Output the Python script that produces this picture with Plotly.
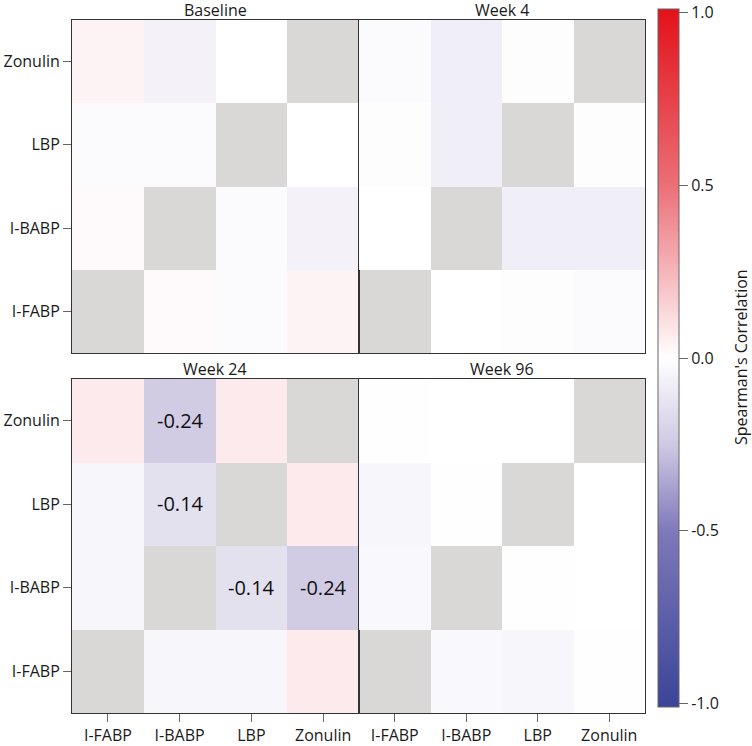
import plotly.graph_objects as go

# markers, bottom to top on the y axis, left to right on the x axis
markers = ["I-FABP", "I-BABP", "LBP", "Zonulin"]

# pairwise Spearman correlations, same order as pairs
pairs = [(0, 1), (0, 2), (0, 3), (1, 2), (1, 3), (2, 3)]
baseline = [0.02, -0.02, 0.04, -0.02, -0.06, 0.0]
week4 = [0.0, -0.01, -0.02, -0.08, -0.08, -0.01]
week24 = [-0.04, -0.04, 0.07, -0.14, -0.24, 0.07]
week96 = [-0.03, -0.04, -0.005, -0.005, 0.0, 0.0]

# which pairs get their value printed in the cell
baseline_sig = [False, False, False, False, False, False]
week4_sig = [False, False, False, False, False, False]
week24_sig = [False, False, False, True, True, False]
week96_sig = [False, False, False, False, False, False]

panels = ["Baseline", "Week 4", "Week 24", "Week 96"]
panel_values = [baseline, week4, week24, week96]
panel_sig = [baseline_sig, week4_sig, week24_sig, week96_sig]


def build_matrix(vals, sig):
    n = len(markers)
    z = [[None] * n for _ in range(n)]
    txt = [[""] * n for _ in range(n)]
    for (i, j), v, s in zip(pairs, vals, sig):
        z[i][j] = v
        z[j][i] = v
        if s:
            txt[i][j] = "%.2f" % v
            txt[j][i] = "%.2f" % v
    return z, txt


W, H = 752, 746


def px_x(p):
    return p / W


def px_y(p):
    return (H - p) / H


# panel boxes in pixels (left, right, top, bottom)
boxes = [(72, 359, 20, 353), (359, 645, 20, 353),
         (72, 359, 379, 713), (359, 645, 379, 713)]

fig = go.Figure()
font = dict(family="Open Sans", size=16, color="#1a1a1a")

for k, (name, vals, sig) in enumerate(zip(panels, panel_values, panel_sig)):
    z, txt = build_matrix(vals, sig)
    ax = "" if k == 0 else str(k + 1)
    fig.add_trace(go.Heatmap(
        x=markers, y=markers, z=z, text=txt,
        texttemplate="%{text}",
        textfont=dict(family="Open Sans", size=20, color="#111"),
        coloraxis="coloraxis",
        xaxis="x" + ax, yaxis="y" + ax,
        hoverongaps=False,
    ))
    l, r, t, b = boxes[k]
    bottom_row = k >= 2
    left_col = k % 2 == 0
    fig.layout["xaxis" + ax] = dict(
        domain=[px_x(l), px_x(r)], anchor="y" + ax,
        type="category", range=[-0.5, 3.5],
        showgrid=False, zeroline=False,
        showline=True, mirror=True, linecolor="#333", linewidth=1,
        ticks="outside" if bottom_row else "", ticklen=8, tickcolor="#666",
        showticklabels=bottom_row, tickfont=font,
    )
    fig.layout["yaxis" + ax] = dict(
        domain=[px_y(b), px_y(t)], anchor="x" + ax,
        type="category", range=[-0.5, 3.5],
        showgrid=False, zeroline=False,
        showline=True, mirror=True, linecolor="#333", linewidth=1,
        ticks="outside" if left_col else "", ticklen=8, tickcolor="#666",
        showticklabels=left_col, tickfont=font,
    )
    # strip label centred about 10px above the panel
    fig.add_annotation(
        text=name, xref="paper", yref="paper",
        x=(px_x(l) + px_x(r)) / 2, y=px_y(t - 10),
        xanchor="center", yanchor="middle", showarrow=False,
        font=font,
    )

# colorbar title, rotated, right of the tick labels
fig.add_annotation(
    text="Spearman's Correlation", xref="paper", yref="paper",
    x=px_x(741), y=px_y(357), textangle=-90,
    xanchor="center", yanchor="middle", showarrow=False, font=font,
)

fig.update_layout(
    width=W, height=H,
    margin=dict(l=0, r=0, t=0, b=0),
    paper_bgcolor="white",
    plot_bgcolor="#D9D8D6",
    font=font,
    showlegend=False,
    coloraxis=dict(
        cmin=-1.01, cmax=1.01,
        colorscale=[
            [0.0, "#3B4499"],
            [0.25, "#7D78B9"],
            [0.375, "#CFC8E3"],
            [0.5, "#FFFFFF"],
            [0.625, "#F5B5BA"],
            [0.75, "#EB6E75"],
            [1.0, "#E3111A"],
        ],
        colorbar=dict(
            x=px_x(658), xanchor="left",
            y=px_y(358), yanchor="middle",
            len=698 / H, lenmode="fraction",
            thickness=21, thicknessmode="pixels",
            outlinecolor="#666", outlinewidth=1,
            ticks="outside", ticklen=9, tickcolor="#666",
            tickvals=[-1, -0.5, 0, 0.5, 1],
            ticktext=["-1.0", "-0.5", "0.0", "0.5", "1.0"],
            tickfont=font,
            ticklabeloverflow="allow",
            xpad=0, ypad=0,
        ),
    ),
)

# drop the default page margin so the figure sits at the window corner
fig.write_html("out.html", config={"displayModeBar": False},
               post_script="document.body.style.margin='0';")
